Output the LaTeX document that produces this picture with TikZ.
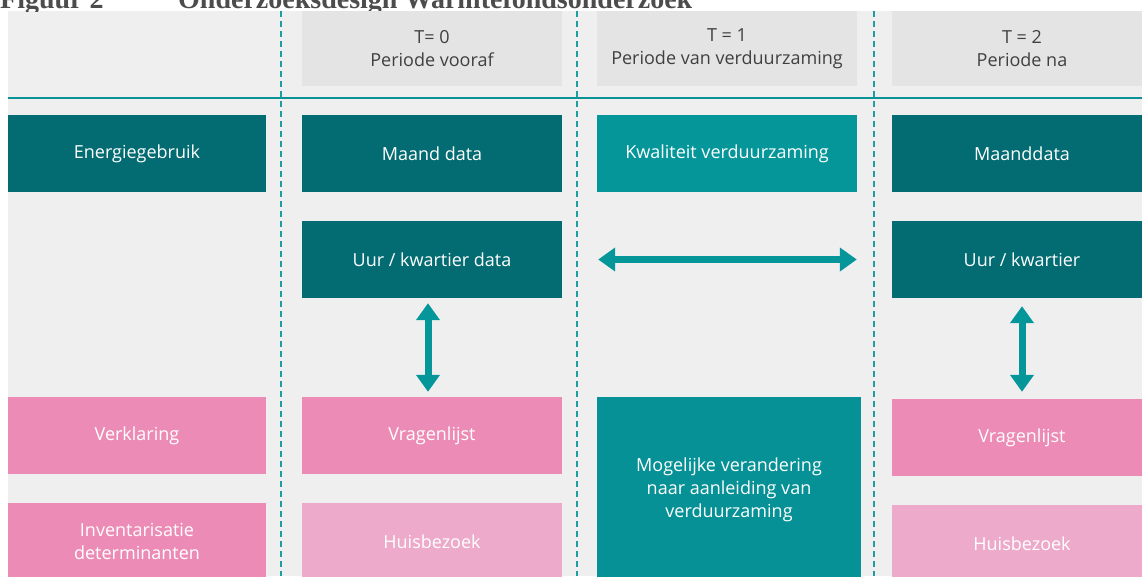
\documentclass[tikz,border=0pt]{standalone}
\usepackage{fontspec}
\setmainfont{Open Sans}
\newfontfamily\titlefont{Liberation Serif}
\usepackage{tikz}
\usetikzlibrary{arrows.meta}

\definecolor{bggray}{HTML}{EFEFEF}
\definecolor{headgray}{HTML}{E4E4E4}
\definecolor{darkteal}{HTML}{036C72}
\definecolor{midteal}{HTML}{05969A}
\definecolor{lineteal}{HTML}{0A9396}
\definecolor{dashteal}{HTML}{1E9DA3}
\definecolor{rosepink}{HTML}{EC8CB6}
\definecolor{palepink}{HTML}{EDAACA}

\tikzset{
  cell/.style={minimum width=260pt,minimum height=77pt,inner sep=0pt,
    text=white,align=center,font=\fontsize{18}{23}\selectfont},
  darkcell/.style={cell,fill=darkteal},
  tealcell/.style={cell,fill=midteal},
  pinkcell/.style={cell,fill=rosepink},
  palecell/.style={cell,fill=palepink},
  headcell/.style={cell,fill=headgray,minimum height=75pt,text=black!75},
  period/.style={dashteal,line width=1.8pt,dash pattern=on 6pt off 4pt},
  dblarrow/.style={midteal,line width=7pt,
    {Triangle[length=17pt,width=23pt]}-{Triangle[length=17pt,width=23pt]}}
}

\begin{document}
\begin{tikzpicture}[x=1pt,y=-1pt]
  \useasboundingbox (0,0) rectangle (1142,576);
  \fill[bggray] (8,11) rectangle (1142,576);

  % titel (afgesneden)
  \begin{scope}
    \clip (0,0) rectangle (1142,11);
    \node[anchor=base west,inner sep=0pt,text=black!70,
      font=\titlefont\bfseries\fontsize{28}{30}\selectfont] (fig) at (0,8) {Figuur 2};
    \node[anchor=base west,inner sep=0pt,text=black!70,
      font=\titlefont\bfseries\fontsize{28}{30}\selectfont] (titel) at (178,8) {Onderzoeksdesign Warmtefondsonderzoek};
  \end{scope}

  \foreach \x in {281,577,874}
    \draw[period] (\x,11) -- (\x,576);

  \node[headcell] (t0) at (432,48.5) {T= 0\\Periode vooraf};
  \node[headcell] (t1) at (727,48.5) {T = 1\\Periode van verduurzaming};
  \node[headcell] (t2) at (1022,48.5) {T = 2\\Periode na};

  \draw[lineteal,line width=2.5pt] (8,98) -- (1142,98);

  \node[darkcell,minimum width=258pt] (energie) at (137,153.5) {Energiegebruik};
  \node[darkcell] (maand) at (432,153.5) {Maand data};
  \node[tealcell] (kwaliteit) at (727,153.5) {Kwaliteit verduurzaming};
  \node[darkcell] (maand2) at (1022,153.5) {Maanddata};

  \node[darkcell] (uur) at (432,259.5) {Uur / kwartier data};
  \node[darkcell] (uur2) at (1022,259.5) {Uur / kwartier};

  \node[pinkcell,minimum width=258pt] (verklaring) at (137,435.5) {Verklaring};
  \node[pinkcell] (vragen) at (432,435.5) {Vragenlijst};
  \node[pinkcell] (vragen2) at (1022,437.5) {Vragenlijst};

  \node[tealcell,minimum width=264pt,minimum height=186pt,fill=midteal!97!black] (verandering) at (729,490)
    {Mogelijke verandering\\naar aanleiding van\\verduurzaming};

  \node[pinkcell,minimum width=258pt] (inventaris) at (137,541.5) {Inventarisatie\\determinanten};
  \node[palecell] (huis) at (432,541.5) {Huisbezoek};
  \node[palecell] (huis2) at (1022,543.5) {Huisbezoek};

  \draw[dblarrow] ([xshift=36pt]uur.east) -- ([xshift=-35pt]uur2.west);
  \draw[dblarrow] ([xshift=-4pt,yshift=-5pt]uur.south) -- ([xshift=-4pt,yshift=5pt]vragen.north);
  \draw[dblarrow] ([yshift=-8pt]uur2.south) -- ([yshift=7pt]vragen2.north);
\end{tikzpicture}
\end{document}
